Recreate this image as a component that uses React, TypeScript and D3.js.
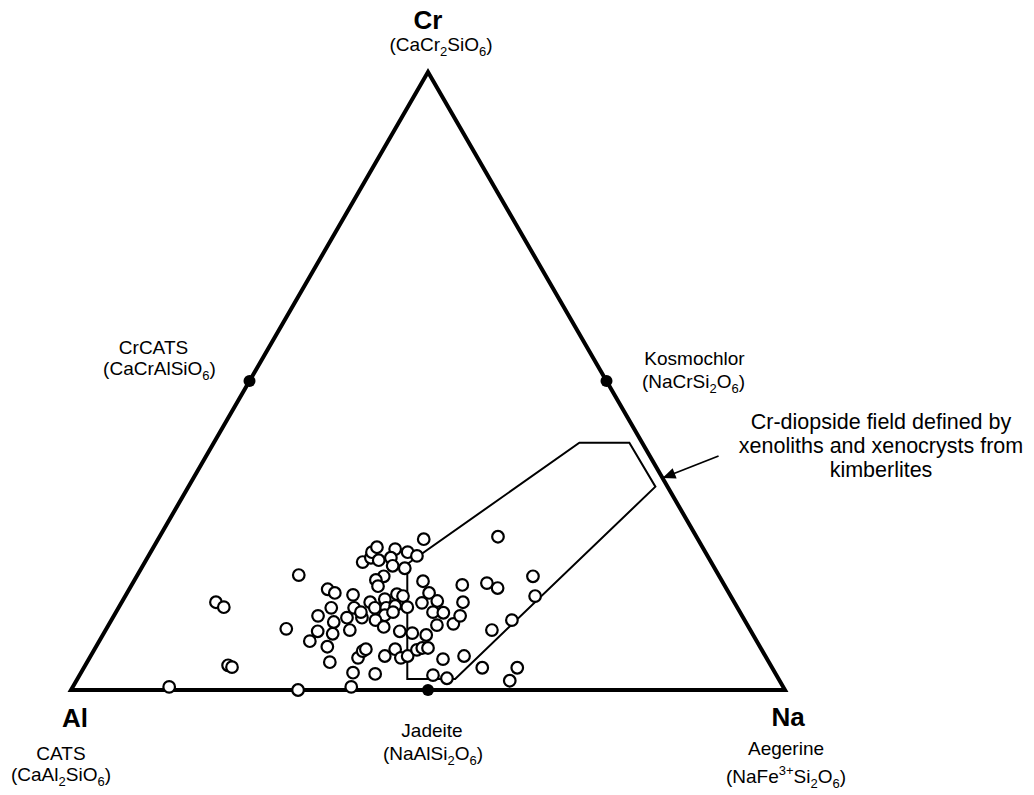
import React from 'react';
import * as d3 from 'd3';

// analyses: [Cr %, Na %] (Al % = 100 - Cr - Na)
const samples: [number, number][] = [
  [0.5, 13.5], [14.2, 13.2], [13.4, 14.7], [4.0, 20.0], [3.7, 20.7], [9.9, 25.2],
  [0, 31.8], [18.6, 22.6], [7.9, 29.5], [12.0, 28.6], [9.5, 29.8], [7.0, 32.4],
  [4.5, 34.0], [16.3, 27.8], [15.7, 29.1], [13.3, 29.8], [11.0, 31.3], [9.1, 32.1],
  [11.7, 32.8], [9.7, 34.2], [15.4, 31.8], [13.3, 33.0], [2.8, 38.1], [0.5, 39.0],
  [5.2, 37.6], [6.3, 37.7], [6.6, 38.0], [11.7, 34.9], [20.7, 30.5], [21.4, 31.3],
  [22.3, 31.0], [23.1, 31.3], [21.0, 32.6], [22.8, 34.0], [21.4, 34.1], [22.3, 36.0],
  [21.7, 37.6], [20.1, 35.0], [19.7, 36.9], [24.4, 37.2], [18.4, 34.6], [17.8, 33.8],
  [16.8, 34.6], [17.6, 40.5], [15.7, 42.3], [14.2, 34.8], [14.7, 36.6], [15.5, 37.9],
  [15.2, 38.9], [13.3, 35.9], [13.3, 37.5], [13.6, 38.6], [13.4, 40.4], [12.1, 37.9],
  [12.6, 38.8], [11.3, 37.0], [10.2, 38.7], [9.5, 41.3], [9.2, 43.2], [8.9, 45.3],
  [14.4, 44.1], [14.1, 42.1], [12.6, 44.4], [12.5, 45.9], [10.5, 46.0], [10.7, 48.2],
  [12.0, 48.5], [14.2, 47.8], [17.0, 46.3], [17.3, 49.6], [16.5, 51.5], [24.8, 47.4],
  [18.4, 55.5], [15.2, 57.4], [11.3, 56.1], [9.7, 54.1], [5.5, 41.2], [6.6, 42.1],
  [5.2, 43.6], [5.5, 44.4], [6.5, 45.2], [6.8, 45.8], [6.8, 46.6], [5.0, 49.6],
  [5.5, 52.3], [2.6, 41.3], [2.4, 49.5], [1.9, 51.7], [3.6, 55.8], [3.6, 60.7],
  [1.5, 60.7], [12.6, 34.3],
];

// Cr-diopside field outline: [Cr %, Na %]
const fieldOutline: [number, number][] = [
  [1.8, 46.2], [20.4, 36.9], [40.0, 51.2], [40.0, 58.2], [32.9, 65.4], [1.8, 52.9],
];

const corners: [number, number][] = [[0, 0], [0, 100], [100, 0]];
// end-member midpoints: CrCATS, Kosmochlor, Jadeite
const endMembers: [number, number][] = [[50, 0], [50, 50], [0, 50]];
const arrowTarget: [number, number] = [34.3, 65.7];

const fieldNote = ['Cr-diopside field defined by', 'xenoliths and xenocrysts from', 'kimberlites'];

const W = 1034;
const H = 795;
const font = '"Liberation Sans", Arial, sans-serif';

export default function App() {
  const x = d3.scaleLinear().domain([0, 100]).range([71, 785]);
  const y = d3.scaleLinear().domain([0, 100]).range([690, 72]);
  const proj = ([cr, na]: [number, number]): [number, number] => [x(na + cr / 2), y(cr)];

  const closed = d3.line().curve(d3.curveLinearClosed);
  const [al, na, cr] = corners.map(proj);
  const tip = proj(arrowTarget);
  const tail: [number, number] = [tip[0] + 56, tip[1] - 22];
  const ang = Math.atan2(tip[1] - tail[1], tip[0] - tail[0]);
  const ah = 13;
  const aw = 5.5;
  const head: [number, number][] = [
    tip,
    [tip[0] - ah * Math.cos(ang) + aw * Math.sin(ang), tip[1] - ah * Math.sin(ang) - aw * Math.cos(ang)],
    [tip[0] - ah * Math.cos(ang) - aw * Math.sin(ang), tip[1] - ah * Math.sin(ang) + aw * Math.cos(ang)],
  ];

  // subscript then back to baseline
  const sub = (s: string) => <tspan fontSize={13} dy={5}>{s}</tspan>;
  const back = (s: string) => <tspan dy={-5}>{s}</tspan>;
  const lab = { fontFamily: font, fontSize: 19, textAnchor: 'middle' as const, fill: '#000' };
  const big = { fontFamily: font, fontSize: 26, fontWeight: 700, textAnchor: 'middle' as const, fill: '#000' };

  const [jx, jy] = proj(endMembers[2]);
  const [cx1, cy1] = proj(endMembers[0]);
  const [kx, ky] = proj(endMembers[1]);

  return (
    <svg width={W} height={H} style={{ position: 'absolute', left: 0, top: 0, background: '#fff' }}>
      <path d={closed([al, na, cr]) ?? ''} fill="none" stroke="#000" strokeWidth={4} />
      <path d={closed(fieldOutline.map(proj)) ?? ''} fill="none" stroke="#000" strokeWidth={2} />

      {samples.map((d, i) => {
        const [px, py] = proj(d);
        return <circle key={i} cx={px} cy={py} r={5.8} fill="#fff" stroke="#000" strokeWidth={2.2} />;
      })}

      {endMembers.map((d, i) => {
        const [px, py] = proj(d);
        return <circle key={'e' + i} cx={px} cy={py} r={6} fill="#000" />;
      })}

      <line x1={tail[0]} y1={tail[1]} x2={tip[0]} y2={tip[1]} stroke="#000" strokeWidth={1.8} />
      <polygon points={head.map(p => p.join(',')).join(' ')} fill="#000" />

      {/* apices */}
      <text x={cr[0]} y={cr[1] - 43} {...big}>Cr</text>
      <text x={cr[0] + 13} y={cr[1] - 21} {...lab}>(CaCr{sub('2')}{back('SiO')}{sub('6')}{back(')')}</text>

      <text x={al[0] + 4} y={al[1] + 37} {...big}>Al</text>
      <text x={al[0] - 10} y={al[1] + 70} {...lab}>CATS</text>
      <text x={al[0] - 10} y={al[1] + 91} {...lab}>(CaAl{sub('2')}{back('SiO')}{sub('6')}{back(')')}</text>

      <text x={na[0] + 3} y={na[1] + 36} {...big}>Na</text>
      <text x={na[0] + 1} y={na[1] + 65} {...lab}>Aegerine</text>
      <text x={na[0] + 1} y={na[1] + 93} {...lab}>(NaFe<tspan fontSize={13} dy={-8}>3+</tspan><tspan dy={8}>Si</tspan>{sub('2')}{back('O')}{sub('6')}{back(')')}</text>

      {/* end-member labels */}
      <text x={jx + 4} y={jy + 47} {...lab}>Jadeite</text>
      <text x={jx + 5} y={jy + 70} {...lab}>(NaAlSi{sub('2')}{back('O')}{sub('6')}{back(')')}</text>
      <text x={cx1 - 96} y={cy1 - 27} {...lab}>CrCATS</text>
      <text x={cx1 - 90} y={cy1 - 6} {...lab}>(CaCrAlSiO{sub('6')}{back(')')}</text>
      <text x={kx + 88} y={ky - 16} {...lab}>Kosmochlor</text>
      <text x={kx + 87} y={ky + 7} {...lab}>(NaCrSi{sub('2')}{back('O')}{sub('6')}{back(')')}</text>

      {fieldNote.map((t, i) => (
        <text key={t} x={881} y={429 + i * 24} {...lab} fontSize={21.5}>{t}</text>
      ))}
    </svg>
  );
}
